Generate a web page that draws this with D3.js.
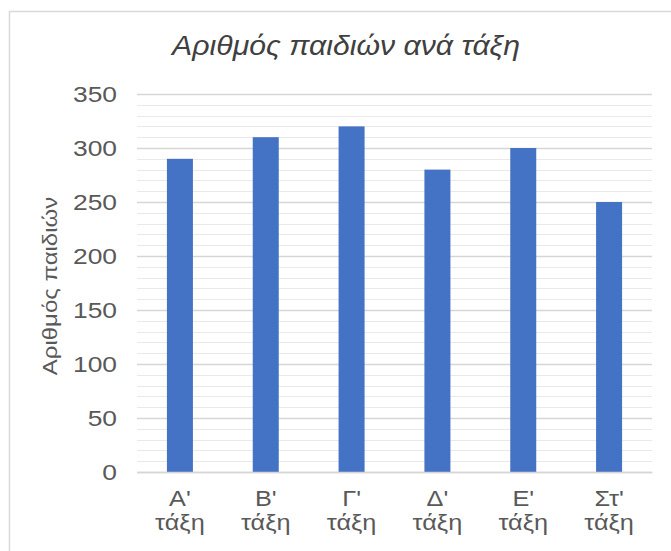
<!DOCTYPE html>
<html>
<head>
<meta charset="utf-8">
<script src="https://cdn.jsdelivr.net/npm/d3@7"></script>
<style>
  html, body { margin: 0; padding: 0; background: #fff; }
  svg { display: block; font-family: "Liberation Sans", Arial, Helvetica, sans-serif; }
</style>
</head>
<body>
<svg id="chart" width="671" height="551"></svg>
<script>
const categories = ["Α' τάξη", "Β' τάξη", "Γ' τάξη", "Δ' τάξη", "Ε' τάξη", "Στ' τάξη"];
const values = [290, 310, 320, 280, 300, 250];
const yTicks = [0, 50, 100, 150, 200, 250, 300, 350];
const minorTicks = d3.range(0, 351, 10);
const title = "Αριθμός παιδιών ανά τάξη";
const yTitle = "Αριθμός παιδιών";

const svg = d3.select("#chart");
const W = 671, H = 551;
const m = { left: 137, right: 19, top: 94, bottom: 79 };

// chart border
svg.append("rect")
  .attr("x", 9.5).attr("y", 11.5)
  .attr("width", 680).attr("height", 560)
  .attr("fill", "#fff").attr("stroke", "#d9d9d9").attr("stroke-width", 1.5);

const x = d3.scaleBand().domain(categories).range([m.left, W - m.right]).paddingInner(0.697).paddingOuter(0.3485);
const y = d3.scaleLinear().domain([0, 350]).range([H - m.bottom, m.top]);

// minor gridlines
svg.append("g").selectAll("line").data(minorTicks.filter(d => d % 50 !== 0)).join("line")
  .attr("x1", m.left).attr("x2", W - m.right)
  .attr("y1", d => Math.round(y(d)) + 0.5).attr("y2", d => Math.round(y(d)) + 0.5)
  .attr("stroke", "#e9e9e9").attr("stroke-width", 1);

// major gridlines
const yAxis = d3.axisLeft(y).tickValues(yTicks).tickSize(-(W - m.left - m.right)).tickPadding(20);
const gy = svg.append("g").attr("transform", `translate(${m.left},0)`).call(yAxis);
gy.select(".domain").remove();
gy.selectAll(".tick line").attr("stroke", "#d6d6d6").attr("stroke-width", 1.5);
gy.selectAll(".tick text").attr("fill", "#595959").attr("font-size", 22)
  .attr("font-family", "'Liberation Sans', Arial, sans-serif")
  .attr("x", 0)
  .attr("transform", "translate(-20,0) scale(1.2,1)");

// bars
svg.append("g").selectAll("rect").data(values).join("rect")
  .attr("x", (d, i) => x(categories[i]))
  .attr("width", x.bandwidth())
  .attr("y", d => y(d))
  .attr("height", d => y(0) - y(d))
  .attr("fill", "#4472c4");

// x-axis labels (two lines)
const xAxis = d3.axisBottom(x).tickSize(0).tickFormat("");
const gx = svg.append("g").attr("transform", `translate(0,${y(0)})`).call(xAxis);
gx.select(".domain").attr("stroke", "#d6d6d6").attr("stroke-width", 1.5);
gx.selectAll(".tick").each(function(d) {
  const parts = d.split(" ");
  const t = d3.select(this).append("text")
    .attr("fill", "#595959").attr("font-size", 22).attr("text-anchor", "middle")
    .attr("transform", "scale(1.15,1)");
  parts.forEach((p, i) => {
    t.append("tspan").attr("x", 0).attr("y", 34 + i * 24).text(p);
  });
});

// title
svg.append("text")
  .attr("transform", "translate(346,55) scale(1.12,1)")
  .attr("text-anchor", "middle")
  .attr("font-size", 27).attr("font-style", "italic")
  .attr("fill", "#404040")
  .text(title);

// y-axis title
svg.append("text")
  .attr("transform", `translate(57,${(y(0) + y(350)) / 2 + 3}) rotate(-90) scale(1.2,1)`)
  .attr("text-anchor", "middle")
  .attr("font-size", 20).attr("fill", "#595959")
  .text(yTitle);
</script>
</body>
</html>
